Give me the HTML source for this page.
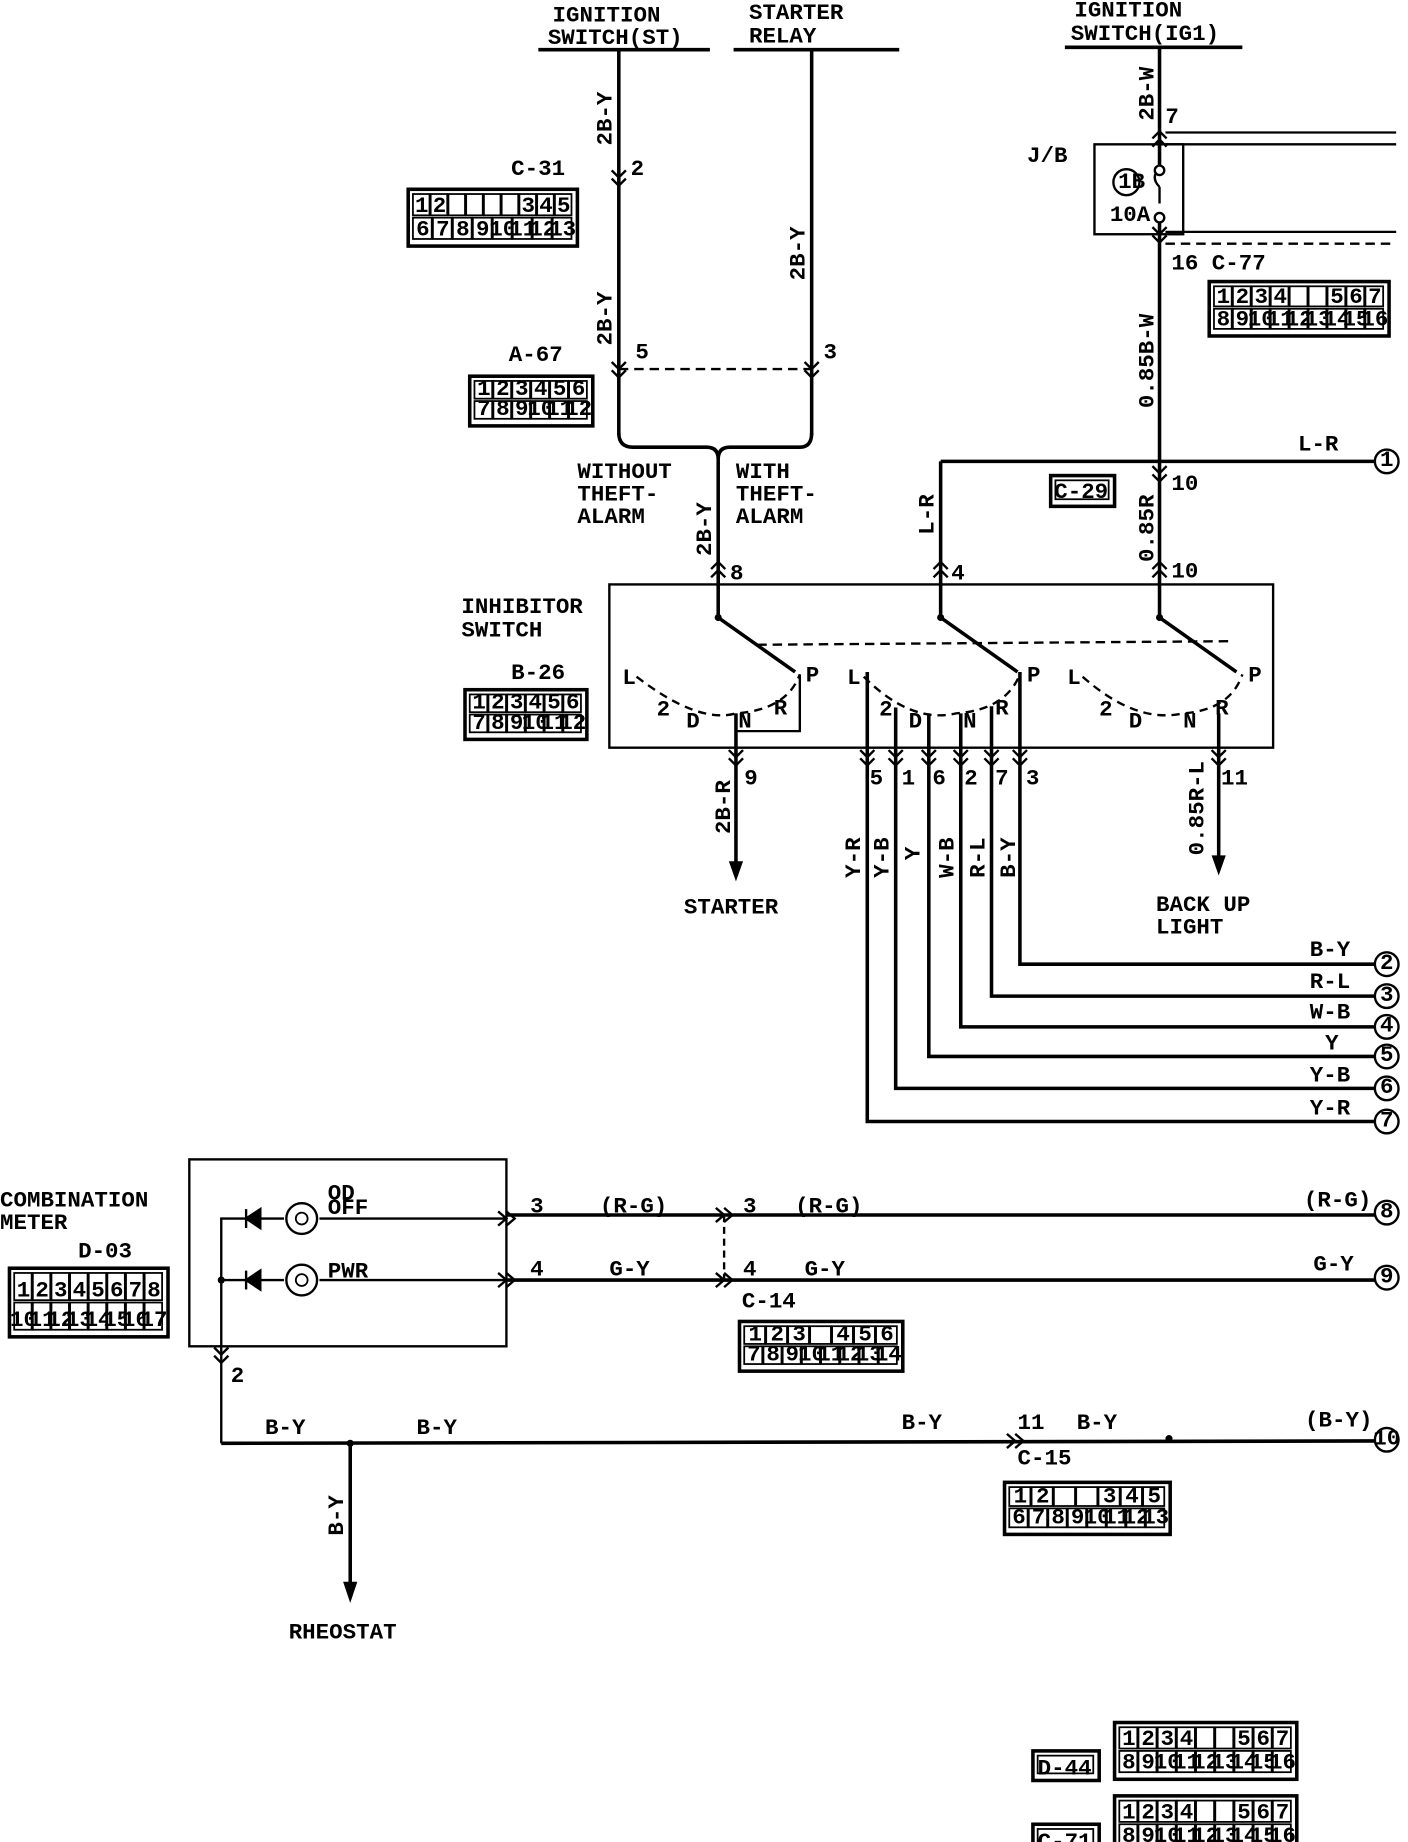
<!DOCTYPE html>
<html><head><meta charset="utf-8"><style>
html,body{margin:0;padding:0;background:#fff}
svg{display:block}
text{font-family:"Liberation Mono",monospace;font-weight:bold;fill:#000;font-size:19px}
</style></head><body>
<svg id="s" width="1408" height="1842" viewBox="0 0 1190 1557" preserveAspectRatio="none" xmlns="http://www.w3.org/2000/svg">
<g stroke="#000" stroke-width="3" fill="none">
<!-- top headers -->
<line x1="455" y1="42" x2="600" y2="42"/><line x1="620" y1="42" x2="760" y2="42"/><line x1="900" y1="40" x2="1050" y2="40"/>
<!-- left wires -->
<line x1="523" y1="42" x2="523" y2="368"/><line x1="686" y1="42" x2="686" y2="368"/>
<line x1="523" y1="312" x2="686" y2="312" stroke-dasharray="8,5" stroke-width="2"/>
<path d="M523 366 Q523 378 535 378 L597 378 Q607 378 607 388 Q607 378 617 378 L676 378 Q686 378 686 366"/>
<line x1="607" y1="388" x2="607" y2="522"/>
<!-- right main -->
<line x1="980" y1="40" x2="980" y2="522"/>
<rect x="925" y="122" width="75" height="76" stroke-width="2"/>
<line x1="985" y1="112" x2="1180" y2="112" stroke-width="2"/><line x1="985" y1="122" x2="1180" y2="122" stroke-width="2"/>
<line x1="985" y1="196" x2="1180" y2="196" stroke-width="2"/><line x1="985" y1="206" x2="1180" y2="206" stroke-width="2" stroke-dasharray="8,5"/>
<rect x="973" y="140" width="14" height="45" fill="#fff" stroke="none"/>
<path d="M980 142 Q972 150 980 158 M980 158 L980 172" stroke-width="2"/>
<circle cx="980" cy="144" r="4" fill="#fff" stroke-width="2"/><circle cx="980" cy="184" r="4" fill="#fff" stroke-width="2"/>
<circle cx="952" cy="154" r="11" stroke-width="2"/>
<!-- L-R -->
<line x1="795" y1="390" x2="1164" y2="390"/><line x1="795" y1="390" x2="795" y2="522"/>
<!-- inhibitor box -->
<rect x="515" y="494" width="561" height="138" stroke-width="2"/>
<line x1="607" y1="522" x2="672" y2="568"/><line x1="795" y1="522" x2="860" y2="568"/><line x1="980" y1="522" x2="1045" y2="568"/>
<line x1="640" y1="545" x2="1040" y2="542" stroke-dasharray="8,5" stroke-width="2"/>
<g stroke-dasharray="7,5" stroke-width="2">
<path d="M538 572 Q590 612 622 603 Q665 600 676 570"/>
<path d="M730 572 Q770 612 808 603 Q850 600 862 570"/>
<path d="M915 572 Q960 612 1000 603 Q1040 600 1050 570"/>
</g>
<path d="M622 603 L622 618 L676 618 L676 570" stroke-width="2"/>
<!-- outputs -->
<line x1="622" y1="603" x2="622" y2="730"/>
<line x1="1030" y1="603" x2="1030" y2="725"/>
<path d="M733 568 L733 948 L1164 948"/>
<path d="M757 598 L757 920 L1164 920"/>
<path d="M785 603 L785 893 L1164 893"/>
<path d="M812 603 L812 868 L1164 868"/>
<path d="M838 597 L838 842 L1164 842"/>
<path d="M862 568 L862 815 L1164 815"/>
<!-- bottom -->
<rect x="160" y="980" width="268" height="158" stroke-width="2"/>
<line x1="428" y1="1027" x2="1164" y2="1027"/><line x1="428" y1="1082" x2="1164" y2="1082"/>
<line x1="612" y1="1027" x2="612" y2="1082" stroke-dasharray="6,4" stroke-width="2"/>
<path d="M187 1220 L187 1030 L240 1030 M187 1082 L240 1082" stroke-width="2"/>
<line x1="270" y1="1030" x2="428" y2="1030" stroke-width="2"/><line x1="270" y1="1082" x2="428" y2="1082" stroke-width="2"/>
<circle cx="255" cy="1030" r="13" stroke-width="2"/><circle cx="255" cy="1082" r="13" stroke-width="2"/>
<circle cx="255" cy="1030" r="5" stroke-width="1.5"/><circle cx="255" cy="1082" r="5" stroke-width="1.5"/>
<path d="M208 1022 L208 1038 M208 1030 L220 1022 L220 1038 Z" fill="#000" stroke-width="2"/>
<path d="M208 1074 L208 1090 M208 1082 L220 1074 L220 1090 Z" fill="#000" stroke-width="2"/>
<line x1="187" y1="1220" x2="1164" y2="1218"/>
<line x1="296" y1="1220" x2="296" y2="1340"/>
</g>
<g fill="#000">
<polygon points="616,728 628,728 622,745"/><polygon points="1024,723 1036,723 1030,740"/><polygon points="290,1337 302,1337 296,1355"/>
<circle cx="607" cy="522" r="3"/><circle cx="795" cy="522" r="3"/><circle cx="980" cy="522" r="3"/>
<circle cx="187" cy="1082" r="3"/><circle cx="296" cy="1220" r="3"/><circle cx="988" cy="1216" r="3"/>
</g>
<g fill="#fff" stroke="#000" stroke-width="2">
<circle cx="1172" cy="390" r="10"/><circle cx="1172" cy="815" r="10"/><circle cx="1172" cy="842" r="10"/><circle cx="1172" cy="868" r="10"/><circle cx="1172" cy="893" r="10"/><circle cx="1172" cy="920" r="10"/><circle cx="1172" cy="948" r="10"/><circle cx="1172" cy="1025" r="10"/><circle cx="1172" cy="1080" r="10"/><circle cx="1172" cy="1217" r="10"/>
</g>
<g font-size="12" text-anchor="middle">
<text x="1172" y="394" font-size="12">1</text><text x="1172" y="819" font-size="12">2</text><text x="1172" y="846" font-size="12">3</text><text x="1172" y="872" font-size="12">4</text><text x="1172" y="897" font-size="12">5</text><text x="1172" y="924" font-size="12">6</text><text x="1172" y="952" font-size="12">7</text><text x="1172" y="1029" font-size="12">8</text><text x="1172" y="1084" font-size="12">9</text><text x="1172" y="1221" font-size="11">10</text>
</g>
<g id="arrows" stroke="#000" stroke-width="2" fill="none"></g>
<g id="conns"></g>
<!-- texts -->
<text x="467" y="18">IGNITION</text><text x="463" y="37">SWITCH(ST)</text>
<text x="633" y="16">STARTER</text><text x="633" y="36">RELAY</text>
<text x="908" y="14">IGNITION</text><text x="905" y="34">SWITCH(IG1)</text>
<text x="432" y="148">C-31</text><text x="533" y="148">2</text><text x="537" y="303">5</text><text x="696" y="303">3</text>
<text x="430" y="305">A-67</text>
<text transform="translate(517,123) rotate(-90)">2B-Y</text>
<text transform="translate(517,292) rotate(-90)">2B-Y</text>
<text transform="translate(680,237) rotate(-90)">2B-Y</text>
<text transform="translate(601,470) rotate(-90)">2B-Y</text>
<text transform="translate(789,452) rotate(-90)">L-R</text>
<text transform="translate(975,102) rotate(-90)">2B-W</text>
<text transform="translate(975,345) rotate(-90)">0.85B-W</text>
<text transform="translate(975,475) rotate(-90)">0.85R</text>
<text x="985" y="104">7</text><text x="868" y="137">J/B</text><text x="938" y="187" font-size="12">10A</text><text x="945" y="159" font-size="12">1B</text>
<text x="990" y="228">16 C-77</text>
<text x="1097" y="381">L-R</text><text x="990" y="414">10</text><text x="990" y="488">10</text>
<text x="488" y="404">WITHOUT</text><text x="488" y="423">THEFT-</text><text x="488" y="442">ALARM</text>
<text x="622" y="404">WITH</text><text x="622" y="423">THEFT-</text><text x="622" y="442">ALARM</text>
<text x="617" y="490">8</text><text x="804" y="490">4</text>
<text x="390" y="518">INHIBITOR</text><text x="390" y="538">SWITCH</text><text x="432" y="574">B-26</text>
<g font-size="14"><text x="526" y="578">L</text><text x="555" y="605">2</text><text x="580" y="615">D</text><text x="624" y="615">N</text><text x="654" y="604">R</text><text x="681" y="576">P</text>
<text x="716" y="578">L</text><text x="743" y="605">2</text><text x="768" y="615">D</text><text x="814" y="615">N</text><text x="841" y="604">R</text><text x="868" y="576">P</text>
<text x="902" y="578">L</text><text x="929" y="605">2</text><text x="954" y="615">D</text><text x="1000" y="615">N</text><text x="1027" y="604">R</text><text x="1055" y="576">P</text></g>
<text x="629" y="663">9</text><text x="735" y="663">5</text><text x="762" y="663">1</text><text x="788" y="663">6</text><text x="815" y="663">2</text><text x="841" y="663">7</text><text x="867" y="663">3</text><text x="1032" y="663">11</text>
<text transform="translate(617,705) rotate(-90)">2B-R</text>
<text transform="translate(1017,723) rotate(-90)">0.85R-L</text>
<text transform="translate(727,742) rotate(-90)">Y-R</text><text transform="translate(751,742) rotate(-90)">Y-B</text><text transform="translate(777,727) rotate(-90)">Y</text>
<text transform="translate(806,742) rotate(-90)">W-B</text><text transform="translate(832,742) rotate(-90)">R-L</text><text transform="translate(858,742) rotate(-90)">B-Y</text>
<text x="578" y="772">STARTER</text><text x="977" y="770">BACK UP</text><text x="977" y="789">LIGHT</text>
<text x="1107" y="808">B-Y</text><text x="1107" y="835">R-L</text><text x="1107" y="861">W-B</text><text x="1120" y="887">Y</text><text x="1107" y="914">Y-B</text><text x="1107" y="942">Y-R</text>
<text x="0" y="1020">COMBINATION</text><text x="0" y="1039">METER</text><text x="66" y="1063">D-03</text>
<g font-size="12"><text x="277" y="1014">OD</text><text x="277" y="1026">OFF</text><text x="277" y="1080">PWR</text></g>
<text x="448" y="1025">3</text><text x="507" y="1025">(R-G)</text><text x="628" y="1025">3</text><text x="672" y="1025">(R-G)</text><text x="1102" y="1020">(R-G)</text>
<text x="448" y="1078">4</text><text x="515" y="1078">G-Y</text><text x="628" y="1078">4</text><text x="680" y="1078">G-Y</text><text x="1110" y="1074">G-Y</text>
<text x="627" y="1105">C-14</text><text x="195" y="1168">2</text>
<text x="224" y="1212">B-Y</text><text x="352" y="1212">B-Y</text><text x="762" y="1208">B-Y</text><text x="860" y="1208">11</text><text x="910" y="1208">B-Y</text><text x="1103" y="1206">(B-Y)</text>
<text x="860" y="1238">C-15</text>
<text transform="translate(290,1298) rotate(-90)">B-Y</text>
<text x="244" y="1385">RHEOSTAT</text>
<text x="877" y="1500">D-44</text><text x="877" y="1562">C-71</text>
<text x="891" y="421">C-29</text>
</svg>
<script>
var NS="http://www.w3.org/2000/svg";
function el(p,t,a,txt){var e=document.createElementNS(NS,t);for(var k in a)e.setAttribute(k,a[k]);if(txt!=null)e.textContent=txt;p.appendChild(e);return e;}
var A=document.getElementById('arrows');
function chev(x,y,d){ // d=1 down, -1 up
 for(var i=0;i<2;i++){var yy=y+i*7*d;el(A,'path',{d:'M'+(x-6)+' '+(yy-6*d)+' L'+x+' '+yy+' L'+(x+6)+' '+(yy-6*d)});}}
function chevR(x,y){for(var i=0;i<2;i++){var xx=x+i*7;el(A,'path',{d:'M'+(xx-7)+' '+(y-6)+' L'+xx+' '+y+' L'+(xx-7)+' '+(y+6)});}}
chev(523,150,1);chev(523,312,1);chev(686,312,1);chev(980,198,1);chev(980,400,1);
chev(980,118,-1);chev(607,482,-1);chev(795,482,-1);chev(980,482,-1);
[622,733,757,785,812,838,862,1030].forEach(function(x){chev(x,640,1);});
chev(187,1145,1);
chevR(428,1030);chevR(428,1082);chevR(612,1027);chevR(612,1082);chevR(858,1218);
var C=document.getElementById('conns');
function conn(x,y,w,h,rows){el(C,'rect',{x:x,y:y,width:w,height:h,fill:'#fff',stroke:'#000','stroke-width':3});
 rows.forEach(function(r,ri){var n=r.length,cw=(w-8)/n,ch=(h-8)/rows.length;
 r.forEach(function(t,ci){var cx=x+4+ci*cw,cy=y+4+ri*ch;el(C,'rect',{x:cx,y:cy,width:cw-1,height:ch-2,fill:'#fff',stroke:'#000','stroke-width':1.5});
 if(t)el(C,'text',{x:cx+cw/2,y:cy+ch-5,'text-anchor':'middle','font-size':9,'font-family':'Liberation Sans'},t);});});}
conn(345,160,143,48,[['1','2','','','','','3','4','5'],['6','7','8','9','10','11','12','13']]);
conn(397,318,104,42,[['1','2','3','4','5','6'],['7','8','9','10','11','12']]);
conn(1022,238,152,46,[['1','2','3','4','','','5','6','7'],['8','9','10','11','12','13','14','15','16']]);
conn(393,583,103,42,[['1','2','3','4','5','6'],['7','8','9','10','11','12']]);
conn(888,402,54,26,[['']]);
conn(8,1072,134,58,[['1','2','3','4','5','6','7','8'],['10','11','12','13','14','15','16','17']]);
conn(625,1117,138,42,[['1','2','3','','4','5','6'],['7','8','9','10','11','12','13','14']]);
conn(849,1253,140,44,[['1','2','','','3','4','5'],['6','7','8','9','10','11','12','13']]);
conn(942,1456,154,48,[['1','2','3','4','','','5','6','7'],['8','9','10','11','12','13','14','15','16']]);
conn(942,1518,154,48,[['1','2','3','4','','','5','6','7'],['8','9','10','11','12','13','14','15','16']]);
conn(873,1480,56,25,[['']]);conn(873,1542,56,25,[['']]);
</script>
</body></html>
